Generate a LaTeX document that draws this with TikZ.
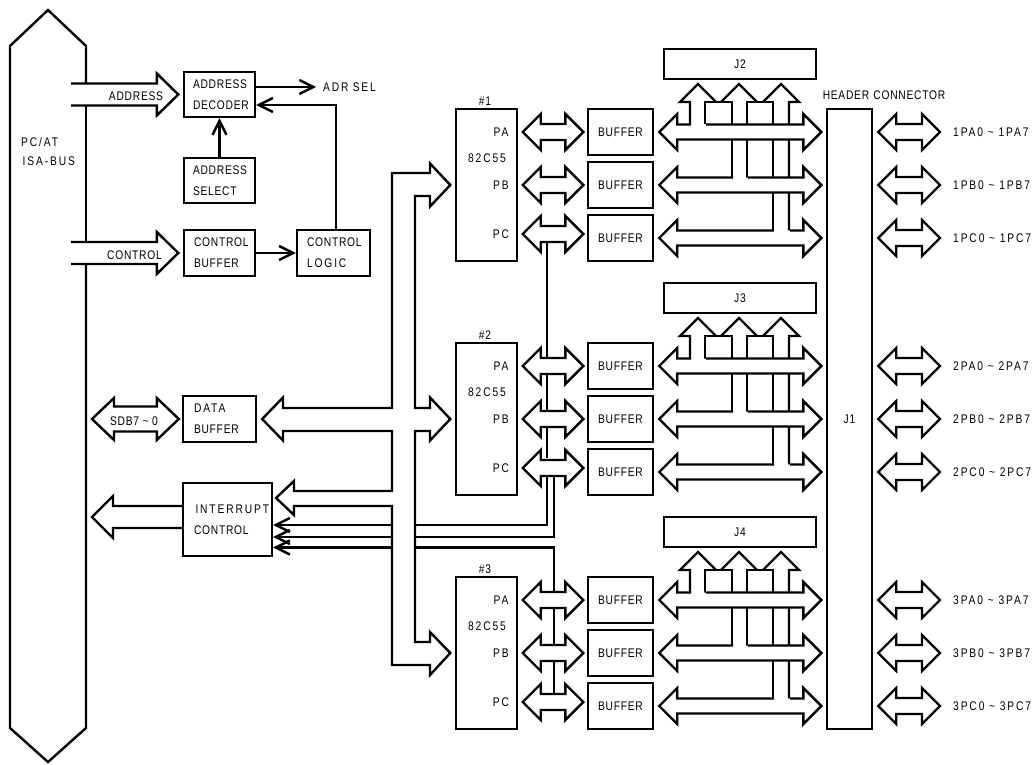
\documentclass[tikz,border=0pt]{standalone}
\usepackage{fontspec}
\setmainfont{Liberation Sans}[FakeStretch=0.82,LetterSpace=6]
\newfontfamily\widefont{Liberation Sans}[FakeStretch=0.82,LetterSpace=15]
\usetikzlibrary{arrows.meta, calc}
\hyphenpenalty=10000
\newcommand{\dbus}[5]{\draw[wire, fill=white] ($(#1)+(#4,-#3)$) -- ($(#2)+(-#4,-#3)$) -- ($(#2)+(-#4,-#5)$) -- (#2) -- ($(#2)+(-#4,#5)$) -- ($(#2)+(-#4,#3)$) -- ($(#1)+(#4,#3)$) -- ($(#1)+(#4,#5)$) -- (#1) -- ($(#1)+(#4,-#5)$) -- cycle;}
\newcommand{\gbus}[4]{\draw[wire, fill=white] ($(#1)+(#4,-7.5)$) -- ($(#2)+(-18,-7.5)$) -- ($(#2)+(-18,-18)$) -- (#2) -- ($(#2)+(-18,18)$) -- ($(#2)+(-18,7.5)$) -- ($(#1)+(18,7.5)$) -- ($(#1)+(18,18)$) -- (#1) -- ($(#1)+(18,-18)$) -- ($(#1)+(18,-7.5)$) -- ($(#1)+(#3,-7.5)$);}
\newcommand{\sbus}[3]{\draw[wire] ($(#1 |- #2)+(0,-11)$) -- ($(#2)+(#3,-11)$) -- ($(#2)+(#3,-21)$) -- (#2) -- ($(#2)+(#3,21)$) -- ($(#2)+(#3,11)$) -- ($(#1 |- #2)+(0,11)$);}

\begin{document}
\begin{tikzpicture}[
  x=1pt, y=-1pt,
  wire/.style={line width=2.4pt, line join=miter},
  arr/.style={wire, -{Straight Barb[length=14pt, width=14pt]}},
  lbl/.style={inner sep=0pt, font=\fontsize{12.5}{21}\selectfont},
  box/.style={draw, line width=2.4pt, lbl, minimum height=46pt, inner xsep=9pt, inner ysep=0pt, align=left, text width=#1},
  chipbox/.style={draw, line width=2.4pt, minimum width=61pt, minimum height=152pt},
  bufbox/.style={draw, line width=2.4pt, lbl, minimum width=65pt, minimum height=46pt, inner sep=0pt},
  jbox/.style={draw, line width=2.4pt, lbl, minimum width=152pt, minimum height=30pt, inner sep=0pt}
]
\useasboundingbox (0,0) rectangle (1033,765);

\draw[wire] (86,83) -- (86,46) -- (48,10) -- (10,46) -- (10,728) -- (48,762) -- (86,728) -- (86,264);
\draw[wire] (86,241) -- (86,105);
\node[lbl, anchor=west] (isa1) at (21,142) {\widefont PC/AT};
\node[lbl, anchor=west] (isa2) at (22.5,161) {\widefont ISA-BUS};

\node[box=53pt, minimum height=45pt] (dec) at (219.5,94.5) {ADDRESS\\DECODER};
\node[box=53pt, minimum height=45pt] (sel) at (219.5,180.5) {ADDRESS\\SELECT};
\node[box=51pt, inner xsep=10pt] (cbuf) at (219.5,253) {CONTROL\\BUFFER};
\node[box=53pt, inner xsep=10pt] (logic) at (333.5,253) {CONTROL\\{\widefont LOGIC}};
\node[box=51pt, inner xsep=11pt] (dbuf) at (219.5,419) {{\widefont DATA}\\BUFFER};
\node[box=67pt, inner xsep=11pt, minimum height=73pt] (int) at (227.5,519.5) {\hspace*{1.5pt}{\widefont INTERRUPT}\\CONTROL};
\node[lbl, anchor=west] (adrsel) at (323,87) {\widefont ADR\,\,SEL};
\node[lbl] (hdr) at (884,95) {HEADER\,\,CONNECTOR};
\node[draw, line width=2.4pt, lbl, minimum width=45pt, minimum height=620pt] (j1) at (849.5,419) {J1};

\coordinate (adrin) at (71,94);
\coordinate (ctlin) at (71,253);
\coordinate (adrtip) at ($(dec.west)+(-4.5,0)$);
\coordinate (ctltip) at ($(cbuf.west)+(-4.5,0)$);
\coordinate (irqout) at (92,517);
\coordinate (sdbl) at (92,419);
\coordinate (sdbr) at ($(dbuf.west)+(-3,0)$);
\sbus{adrin}{adrtip}{-21.5}
\sbus{ctlin}{ctltip}{-21.5}
\sbus{int.west}{irqout}{21}
\dbus{sdbl}{sdbr}{12.5}{22}{21}
\node[lbl] (adrtxt) at (136,96) {ADDRESS};
\node[lbl] (ctltxt) at (134.5,255) {CONTROL};
\node[lbl] (sdbtxt) at (134,421) {SDB7 \textasciitilde{} 0};
\node[lbl] (bits) at (334,421) {8};

\draw[arr, shorten >=7pt] (dec.east |- adrsel.west) -- (adrsel.west);
\draw[arr] ([xshift=2.5]logic.north) |- ([yshift=-10.5]dec.east);
\draw[arr] (sel.north) -- (dec.south);
\draw[arr] (cbuf.east) -- (logic.west);

\coordinate (irqa) at (547,475);
\coordinate (irqb) at (554,475);
\coordinate (irqc) at (554,695);
\draw[arr] (irqa) |- ([yshift=-5.5]int.east);
\draw[arr] (irqb) |- ([yshift=-17.5]int.east);
\draw[arr] (irqc) |- ([yshift=-28]int.east);
\draw[wire] (547,242) -- (547,458);

\foreach \n/\jn/\dy in {1/2/0, 2/3/234, 3/4/468} {
  \begin{scope}[yshift=-\dy]
    \node[chipbox] (chip\n) at (486.5,185) {};
    \node[lbl] (num\n) at (485,101) {\#\n};
    \node[lbl] (type\n) at (487,158) {\widefont 82C55};
    \node[jbox] (j\jn) at (740,64) {J\jn};
    \draw[wire] (690,124.5) -- (690,102) -- (680,102) -- (698,84) -- (716,102);
    \draw[wire] (705,124.5) -- (705,102) -- (732,102) -- (732,177.5);
    \draw[wire] (721,102) -- (739,84) -- (757,102);
    \draw[wire] (747,177.5) -- (747,102) -- (773,102) -- (773,230.5);
    \draw[wire] (763,102) -- (781,84) -- (799,102) -- (789,102) -- (789,230.5);
    \foreach \rw/\port/\yb/\yl/\ga/\gb in {a/A/132/132/32/47, b/B/185/185/74/89, c/C/238/234/115/131} {
      \node[bufbox] (buf\rw\n) at (620.5,\yb) {BUFFER};
      \node[lbl] (port\rw\n) at (501,\yl) {\widefont P\port};
      \node[lbl, anchor=west] (pin\rw\n) at (953,\yb) {\widefont\n{}P\port0 \textasciitilde{} \n{}P\port7};
      \coordinate (pl\rw\n) at ($(chip\n.east |- port\rw\n)+(4.5,0)$);
      \coordinate (pr\rw\n) at ($(buf\rw\n.west |- port\rw\n)+(-3.5,0)$);
      \coordinate (bl\rw\n) at ($(buf\rw\n.east)+(5,0)$);
      \coordinate (br\rw\n) at ($(j1.west |- buf\rw\n)+(-4.5,0)$);
      \coordinate (hl\rw\n) at ($(j1.east |- buf\rw\n)+(5,0)$);
      \coordinate (hr\rw\n) at ($(pin\rw\n.west)+(-13,0)$);
      \dbus{pl\rw\n}{pr\rw\n}{8}{18}{18}
      \gbus{bl\rw\n}{br\rw\n}{\ga}{\gb}
      \dbus{hl\rw\n}{hr\rw\n}{8}{18}{18}
    }
  \end{scope}
}

\coordinate (ta1) at ($(chip1.west)+(-4.5,0)$);
\coordinate (ta2) at ($(chip2.west)+(-4.5,0)$);
\coordinate (ta3) at ($(chip3.west)+(-4.5,0)$);
\coordinate (tdat) at ($(dbuf.east)+(5,0)$);
\coordinate (tint) at (276,498);
\draw[wire, fill=white] (430,173) -- (392,173) -- (392,408) -- (283,408) -- (283,397.5) -- (tdat) -- (283,440.5) -- (283,431) -- (392,431) -- (392,491) -- (294,491) -- (294,481) -- (tint) -- (294,515) -- (294,506) -- (392,506) -- (392,665) -- (430,665) -- (430,675) -- (ta3) -- (430,632) -- (430,642) -- (415,642) -- (415,431) -- (430,431) -- (430,440.5) -- (ta2) -- (430,397.5) -- (430,408) -- (415,408) -- (415,196) -- (430,196) -- (430,206.5) -- (ta1) -- (430,163.5) -- cycle;
\end{tikzpicture}
\end{document}
